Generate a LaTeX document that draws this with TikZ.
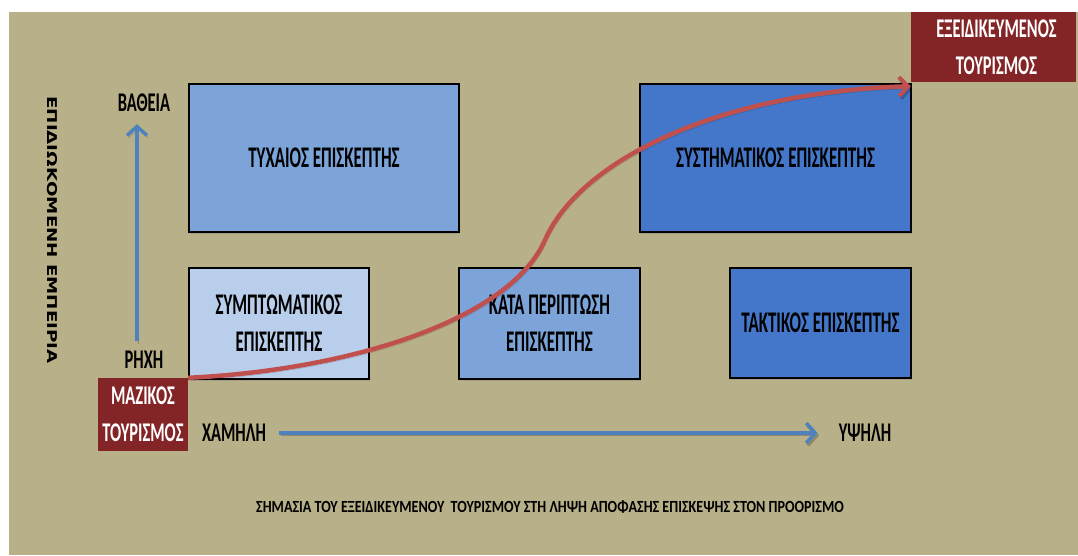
\documentclass[tikz,border=0pt]{standalone}
\usepackage{fontspec}
\setmainfont{Carlito}
\newfontfamily\vfont{DejaVu Sans}
\usetikzlibrary{arrows.meta,shadows}
\definecolor{khaki}{HTML}{B8B088}
\definecolor{lblue}{HTML}{B9CEEA}
\definecolor{mblue}{HTML}{7CA4D9}
\definecolor{dblue}{HTML}{4477C9}
\definecolor{dred}{HTML}{832426}
\definecolor{arrblue}{HTML}{4F81BD}
\definecolor{arrred}{HTML}{C0504D}
\newcommand\bx[1]{\scalebox{0.565}[1]{#1}}
\newcommand\lb[1]{\scalebox{0.61}[1]{#1}}
\tikzset{
  vbox/.style={draw=black, line width=1.6pt, inner sep=0pt, align=center,
    font=\fontsize{30}{37}\selectfont\bfseries,
    drop shadow={shadow xshift=1pt, shadow yshift=-1.5pt, opacity=0.35}},
  redbox/.style={fill=dred, draw=none, inner sep=0pt, align=center, text=white,
    font=\fontsize{27}{37}\selectfont\bfseries},
  lab/.style={inner sep=0pt, font=\fontsize{27}{30}\selectfont\bfseries},
  shd/.style={preaction={draw=black, opacity=0.22, transform canvas={xshift=1.5pt, yshift=-2.5pt}}},
  barrow/.style={draw=arrblue, line width=4pt, shd, -{Straight Barb[length=9pt, width=20pt, line width=3.5pt]}},
  rarrow/.style={draw=arrred, line width=4.5pt, shd, -{Straight Barb[length=9pt, width=19pt, line width=4pt]}}
}
\begin{document}
\begin{tikzpicture}[x=1pt,y=-1pt]
\useasboundingbox (0,0) rectangle (1078,555);
\fill[khaki] (9,12) rectangle (1078,555);

% boxes
\node[vbox, fill=mblue, minimum width=270pt, minimum height=148pt] (tyx) at (324,158) {\bx{ΤΥΧΑΙΟΣ ΕΠΙΣΚΕΠΤΗΣ}};
\node[vbox, fill=dblue, minimum width=271pt, minimum height=148pt] (sys) at (775.5,158) {\bx{ΣΥΣΤΗΜΑΤΙΚΟΣ ΕΠΙΣΚΕΠΤΗΣ}};
\node[vbox, fill=lblue, minimum width=180pt, minimum height=111pt] (sym) at (279,323.5) {\bx{ΣΥΜΠΤΩΜΑΤΙΚΟΣ}\\\bx{ΕΠΙΣΚΕΠΤΗΣ}};
\node[vbox, fill=mblue, minimum width=181pt, minimum height=111pt] (kat) at (549.5,323.5) {\bx{ΚΑΤΑ ΠΕΡΙΠΤΩΣΗ}\\\bx{ΕΠΙΣΚΕΠΤΗΣ}};
\node[vbox, fill=dblue, minimum width=181pt, minimum height=110pt] (tak) at (820.5,323) {\bx{ΤΑΚΤΙΚΟΣ ΕΠΙΣΚΕΠΤΗΣ}};

% red boxes
\node[redbox, minimum width=90pt, minimum height=73pt] (maz) at (143,414.5) {\lb{ΜΑΖΙΚΟΣ}\\\lb{ΤΟΥΡΙΣΜΟΣ}};
\node[redbox, minimum width=165pt, minimum height=70pt] (exe) at (993.5,47) {\hspace*{6pt}\lb{ΕΞΕΙΔΙΚΕΥΜΕΝΟΣ}\\\hspace*{6pt}\lb{ΤΟΥΡΙΣΜΟΣ}};

% axis labels
\node[lab] (bath) at (144,103) {\lb{ΒΑΘΕΙΑ}};
\node[lab] (rhx) at (144,360) {\lb{ΡΗΧΗ}};
\node[lab] (xam) at (234,433) {\lb{ΧΑΜΗΛΗ}};
\node[lab] (yps) at (865,433) {\lb{ΥΨΗΛΗ}};
\node[inner sep=0pt, rotate=-90, font=\vfont\fontsize{13.5}{16}\selectfont\bfseries] (emp) at (52,230) {\scalebox{1.35}[1]{ΕΠΙΔΙΩΚΟΜΕΝΗ ΕΜΠΕΙΡΙΑ}};
\node[inner sep=0pt, font=\fontsize{17}{20}\selectfont\bfseries] (cap) at (550,507) {\scalebox{0.83}[1]{ΣΗΜΑΣΙΑ ΤΟΥ ΕΞΕΙΔΙΚΕΥΜΕΝΟΥ\ \ ΤΟΥΡΙΣΜΟΥ ΣΤΗ ΛΗΨΗ ΑΠΟΦΑΣΗΣ ΕΠΙΣΚΕΨΗΣ ΣΤΟΝ ΠΡΟΟΡΙΣΜΟ}};

% axis arrows
\draw[barrow, line width=3.5pt] ([xshift=-7pt, yshift=10pt]rhx.north) -- ([xshift=-7pt, yshift=-12pt]bath.south);
\draw[barrow] ([xshift=13pt]xam.east) -- ([xshift=-21pt]yps.west);

% red curve
\coordinate (mid) at (545,240);
\draw[rarrow] (maz.north east) .. controls (350,370) and (510,320) .. (mid)
  .. controls (580,160) and (720,92) .. ([yshift=-4pt]exe.south west);
\end{tikzpicture}
\end{document}
